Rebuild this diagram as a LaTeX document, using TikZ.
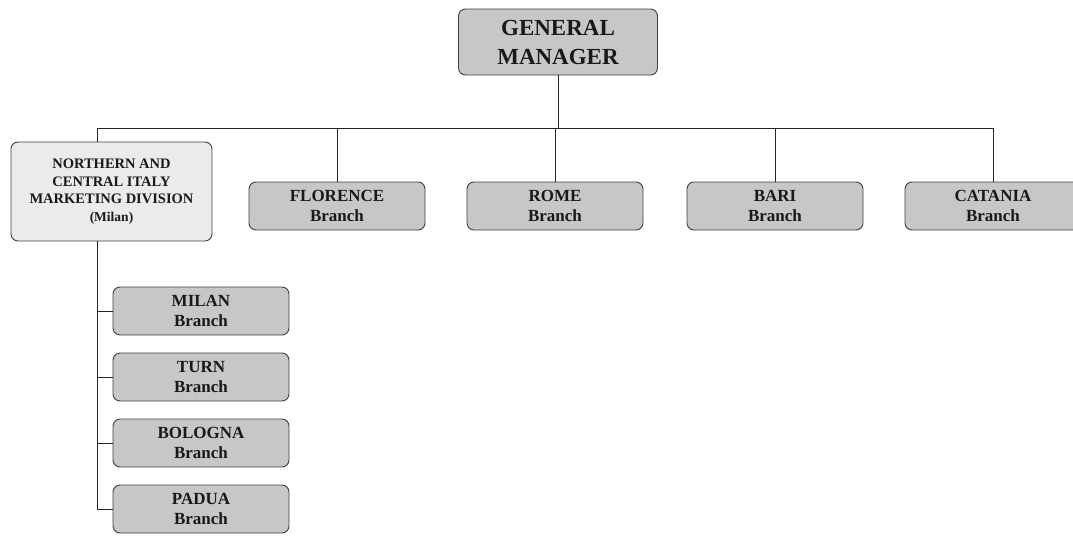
\documentclass[tikz,border=0pt]{standalone}
\usepackage{fontspec}
\setmainfont{Liberation Serif}
\begin{document}
\begin{tikzpicture}[x=1pt,y=-1pt,
  txt/.style={text=black!90,font=\bfseries,align=center},
  box/.style={txt,draw=black!75,line width=0.9pt,rounded corners=7pt,fill=black!22,inner sep=0pt},
  gm/.style={box,minimum width=199pt,minimum height=66pt,font=\bfseries\fontsize{23}{29}\selectfont},
  branch/.style={box,minimum width=176pt,minimum height=48pt,font=\bfseries\fontsize{17}{20}\selectfont},
  division/.style={box,fill=black!8,minimum width=201pt,minimum height=99pt,font=\bfseries\fontsize{14.5}{17.5}\selectfont},
  link/.style={draw=black!85,line width=0.8pt}]
\useasboundingbox (0,0) rectangle (1073,536);

% top level
\node[gm] (gm) at (558,42) {GENERAL\\MANAGER};

% branch bar
\coordinate (barL) at (97,128);
\coordinate (barR) at (993,128);
\coordinate (bar) at (558,128);

% first-level units
\node[division] (div) at (111.5,191.5) {NORTHERN AND\\CENTRAL ITALY\\MARKETING DIVISION\\{\fontsize{13.5}{15}\selectfont(Milan)}};
\node[branch] (flo) at (337,206) {FLORENCE\\Branch};
\node[branch] (rom) at (555,206) {ROME\\Branch};
\node[branch] (bar1) at (775,206) {BARI\\Branch};
\node[branch] (cat) at (993,206) {CATANIA\\Branch};

% branches under the division
\node[branch] (mil) at (201,311) {MILAN\\Branch};
\node[branch] (tur) at (201,377) {TURN\\Branch};
\node[branch] (bol) at (201,443) {BOLOGNA\\Branch};
\node[branch] (pad) at (201,509) {PADUA\\Branch};

% connectors
\draw[link] (gm.south) -- (bar);
\draw[link] (barL) -- (barR);
\draw[link] (barL) -- (barL |- div.north);
\draw[link] (flo.north) -- (flo.north |- bar);
\draw[link] (rom.north) -- (rom.north |- bar);
\draw[link] (bar1.north) -- (bar1.north |- bar);
\draw[link] (cat.north) -- (barR);
\draw[link] (barL |- div.south) -- (barL |- pad.west) -- (pad.west);
\draw[link] (barL |- mil.west) -- (mil.west);
\draw[link] (barL |- tur.west) -- (tur.west);
\draw[link] (barL |- bol.west) -- (bol.west);
\end{tikzpicture}
\end{document}
